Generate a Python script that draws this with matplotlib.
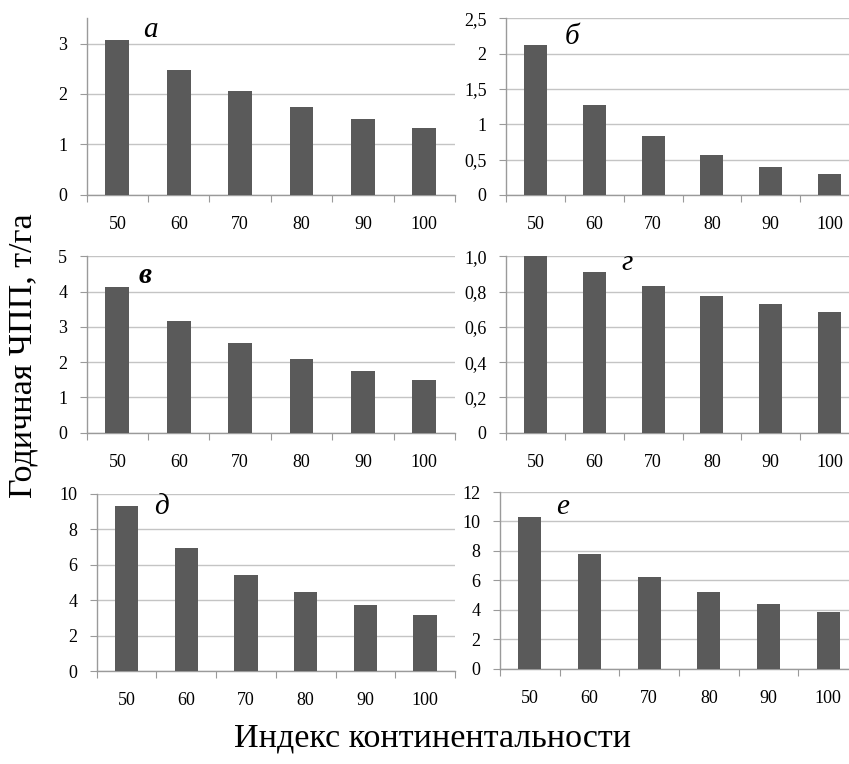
import matplotlib.pyplot as plt
import numpy as np

plt.rcParams['font.family'] = ['Liberation Serif', 'DejaVu Serif']

categories = ['50', '60', '70', '80', '90', '100']

values_a = [3.07, 2.47, 2.05, 1.74, 1.51, 1.33]
values_b = [2.12, 1.27, 0.83, 0.56, 0.40, 0.29]
values_v = [4.13, 3.18, 2.54, 2.09, 1.76, 1.50]
values_g = [1.00, 0.913, 0.834, 0.777, 0.728, 0.685]
values_d = [9.32, 6.92, 5.43, 4.44, 3.70, 3.14]
values_e = [10.33, 7.81, 6.25, 5.19, 4.42, 3.83]

ticks_a = [0, 1, 2, 3]
ticks_b = [0, 0.5, 1, 1.5, 2, 2.5]
ticks_v = [0, 1, 2, 3, 4, 5]
ticks_g = [0, 0.2, 0.4, 0.6, 0.8, 1.0]
ticks_d = [0, 2, 4, 6, 8, 10]
ticks_e = [0, 2, 4, 6, 8, 10, 12]

labels_b = ['0', '0,5', '1', '1,5', '2', '2,5']
labels_g = ['0', '0,2', '0,4', '0,6', '0,8', '1,0']

BAR = '#5a5a5a'
GRID = '#c4c4c4'
SPINE = '#9a9a9a'

fig = plt.figure(figsize=(8.49, 7.64), dpi=100)

panels = [
    # rect, values, ylim top, ticks, tick labels, letter, letter pos, bold
    ([0.1021, 0.7448, 0.4338, 0.2313], values_a, 3.5, ticks_a, None, 'а', (0.172, 0.934), False),
    ([0.5960, 0.7448, 0.4158, 0.2313], values_b, 2.5, ticks_b, labels_b, 'б', (0.187, 0.894), False),
    ([0.1021, 0.4336, 0.4338, 0.2309], values_v, 5, ticks_v, None, 'в', (0.158, 0.894), True),
    ([0.5960, 0.4336, 0.4158, 0.2309], values_g, 1.0, ticks_g, labels_g, 'г', (0.343, 0.962), False),
    ([0.1139, 0.1217, 0.4220, 0.2321], values_d, 10, ticks_d, None, 'д', (0.182, 0.925), False),
    ([0.5889, 0.1247, 0.4217, 0.2313], values_e, 12, ticks_e, None, 'е', (0.176, 0.915), False),
]

x = np.arange(len(categories))

for rect, vals, top, yt, ylabels, letter, pos, bold in panels:
    ax = fig.add_axes(rect)
    ax.bar(x, vals, width=0.39, color=BAR, zorder=3)
    ax.set_xlim(-0.5, len(categories) - 0.5)
    ax.set_ylim(0, top)
    ax.set_yticks(yt)
    if ylabels is not None:
        ax.set_yticklabels(ylabels)
    ax.yaxis.grid(True, color=GRID, linewidth=1)
    ax.set_axisbelow(True)

    # category boundary ticks, labels at centres
    ax.set_xticks(np.arange(-0.5, len(categories), 1.0))
    ax.set_xticklabels([])
    ax.set_xticks(x, minor=True)
    ax.set_xticklabels(categories, minor=True)
    ax.tick_params(axis='x', which='major', length=5, color=SPINE, direction='out')
    ax.tick_params(axis='x', which='minor', length=0, pad=15, labelsize=13)
    ax.tick_params(axis='y', length=5, color=SPINE, pad=9, labelsize=13)

    for s in ['top', 'right']:
        ax.spines[s].set_visible(False)
    for s in ['left', 'bottom']:
        ax.spines[s].set_color(SPINE)
        ax.spines[s].set_linewidth(1)

    ax.text(pos[0], pos[1], letter, transform=ax.transAxes, fontsize=21,
            style='italic', fontweight='bold' if bold else 'normal',
            ha='center', va='center')

fig.text(0.027, 0.534, 'Годичная ЧПП, т/га', rotation=90, fontsize=24.5,
         ha='center', va='center')
fig.text(0.51, 0.034, 'Индекс континентальности', fontsize=24.5,
         ha='center', va='center')

fig.savefig('out.png', dpi=100)
